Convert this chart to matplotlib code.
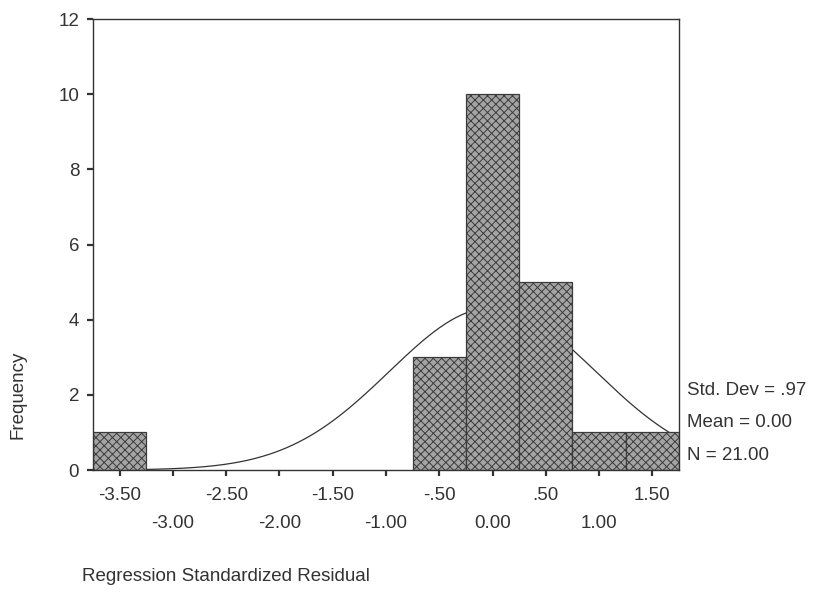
import numpy as np
import matplotlib
matplotlib.use("Agg")
import matplotlib.pyplot as plt

# Histogram data (bin centres, width 0.5)
bin_centers = [-3.5, -0.5, 0.0, 0.5, 1.0, 1.5]
counts = [1, 3, 10, 5, 1, 1]
bin_width = 0.5

# Summary statistics shown beside the plot
std_dev = 0.97
mean = 0.0
n_total = 21

tick_values = [-3.5, -3.0, -2.5, -2.0, -1.5, -1.0, -0.5, 0.0, 0.5, 1.0, 1.5]
tick_labels = ["-3.50", "-3.00", "-2.50", "-2.00", "-1.50", "-1.00",
               "-.50", "0.00", ".50", "1.00", "1.50"]
y_ticks = [0, 2, 4, 6, 8, 10, 12]

TXT = "#333333"
FS = 13.5


def main():
    plt.rcParams["font.family"] = ["Liberation Sans", "DejaVu Sans"]
    plt.rcParams["hatch.linewidth"] = 0.7

    fig = plt.figure(figsize=(8.21, 6.06), dpi=100)
    ax = fig.add_axes([0.1133, 0.2244, 0.7137, 0.7442])

    # normal curve from the displayed statistics
    xs = np.linspace(-3.75, 1.75, 400)
    ys = n_total * bin_width / (std_dev * np.sqrt(2 * np.pi)) * np.exp(-0.5 * ((xs - mean) / std_dev) ** 2)
    ax.plot(xs, ys, color="#333333", linewidth=0.9, zorder=1)

    ax.bar(bin_centers, counts, width=bin_width, facecolor="#a4a4a4",
           edgecolor="#3c3c3c", hatch="xxxx", linewidth=0.9, zorder=2)

    ax.set_xlim(-3.75, 1.75)
    ax.set_ylim(0, 12)

    labels = [lab if i % 2 == 0 else "\n" + lab for i, lab in enumerate(tick_labels)]
    ax.set_xticks(tick_values)
    ax.set_xticklabels(labels, fontsize=FS, color=TXT, linespacing=1.85)
    ax.set_yticks(y_ticks)
    ax.set_yticklabels([str(v) for v in y_ticks], fontsize=FS, color=TXT)
    ax.tick_params(axis="x", direction="out", length=4, width=1.6, color="#333333", pad=8)
    ax.tick_params(axis="y", direction="out", length=4, width=1.6, color="#333333", pad=6)

    for sp in ax.spines.values():
        sp.set_color("#333333")
        sp.set_linewidth(1.0)

    fig.text(0.022, 0.348, "Frequency", rotation=90, ha="center", va="center",
             fontsize=FS, color=TXT)
    fig.text(0.1, 0.048, "Regression Standardized Residual", ha="left", va="center",
             fontsize=FS, color=TXT)

    stats = [f"Std. Dev = {std_dev:.2f}".replace("0.", "."),
             f"Mean = {mean:.2f}",
             f"N = {n_total:.2f}"]
    for i, s in enumerate(stats):
        fig.text(0.837, 0.355 - i * 0.053, s, ha="left", va="center",
                 fontsize=FS, color=TXT)

    fig.savefig("out.png", dpi=100)


if __name__ == "__main__":
    main()
